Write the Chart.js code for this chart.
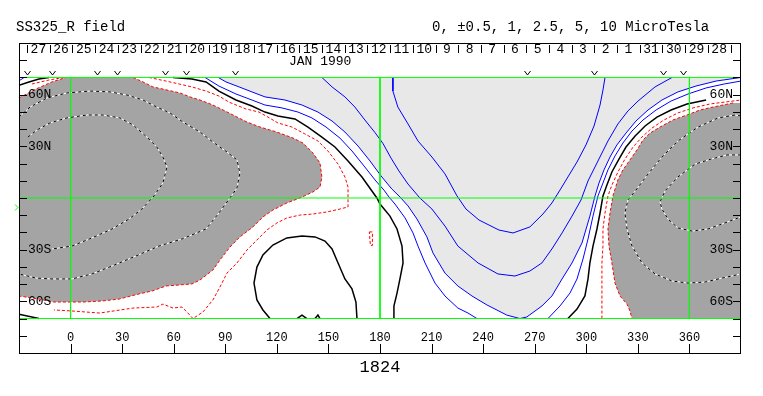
<!DOCTYPE html>
<html lang="en">
<head>
<meta charset="UTF-8">
<title>SS325_R field</title>
<script src="https://cdn.jsdelivr.net/npm/chart.js"></script>
<style>
    body { margin: 0; background: #ffffff; }
    #caixa { width: 763px; height: 396px; }
</style>
</head>
<body>
<div id="caixa"><canvas id="mapa" width="763" height="396"></canvas></div>
<script>

// -1 contour (edge of the dark grey), west lobe
const negOneWestA = [[-30,58.1],[-20.1,63.3],[-10.8,67.4],[-2.7,70]];
const negOneWestB = [[36.3,70],[42.1,67.4],[47.9,64.5],[56.1,62.7],[63.6,61],[69.5,58.7],[75.3,56.9],[82.8,54],[88.7,51.1],[94.5,48.2],[102.6,44.1],[110.2,41.2],[120,38.3],[129.4,34.8],[135.2,31.9],[141,26.1],[145.1,20.3],[146.2,12.2],[145.1,6.4],[141,3.5],[133.4,0],[125.8,-2.9],[117.7,-7],[111.9,-11],[106.1,-16.8],[98.5,-22.6],[92.7,-28.5],[86.9,-36],[82.8,-41.8],[75.3,-47.6],[70.6,-49.9],[63.1,-50.5],[55.5,-51.1],[47.4,-54],[39.8,-55.7],[28.2,-58.7],[18.3,-59.8],[7.2,-60.4],[-9.7,-60.4],[-18.4,-58.7],[-30,-56.9]];
// -1 contour, east lobe
const negOneEast = [[390,55.2],[385.4,55.2],[373.7,52.8],[366.2,51.1],[358.6,48.2],[350.4,45.3],[342.9,41.2],[337.1,37.7],[333,33.7],[329.5,27.9],[325.4,22.1],[321.3,16.3],[318.4,10.5],[315.5,1.2],[313.8,-8.7],[312.6,-18],[313.2,-27.9],[314.9,-37.7],[316.7,-49.4],[319.6,-56.9],[323.7,-61.6],[325.4,-65.6],[326.6,-70]];

// -0.5 contours
const negHalfWestTop = [[-22.5,66.2],[-12.6,68.5],[-4,70]];
const negHalfWest = [[45.6,70],[55.5,67.9],[63.1,66.2],[70.6,64.5],[78.8,62.1],[86.3,59.2],[92.1,55.7],[102,51.7],[109.6,49.9],[114.8,47],[120.6,43.6],[128.8,41.2],[136.3,37.2],[143.9,33.1],[149.7,27.3],[155.6,19.7],[159.6,12.2],[161.4,6.4],[161.4,-0.6],[161.4,-5.2],[156.7,-6.4],[149.1,-8.1],[141,-9.3],[133.4,-9.9],[125.8,-11.6],[120,-14.5],[114.2,-18.6],[108.4,-24.4],[102.6,-30.2],[96.8,-37.7],[91,-43.6],[86.9,-51.7],[82.8,-59.2],[77,-66.2],[71.2,-70],[67.7,-66.2],[64.8,-63.3],[59.6,-63.9],[53.7,-61.6],[50.2,-63.3],[36.3,-63.9],[17.1,-66.8],[0.8,-65.6],[-9.7,-65]];
const negHalfLoop = [[173.8,-19.7],[175.6,-19.7],[175.6,-27.5],[174.4,-27.5],[173.8,-19.7]];
const negHalfEast = [[309.1,-70],[309.1,-56.9],[309.1,-47],[309.1,-37.7],[309.7,-27.9],[309.7,-18],[310.9,-8.7],[312.6,1.2],[314.9,7.5],[318.4,15.1],[322.5,22.6],[327.2,29.6],[332.4,35.4],[338.2,40.6],[345.2,45.3],[353.3,49.4],[362.1,52.3],[372,54.6],[390,56.9]];

// -2.5 and -5 contours (inside the dark grey)
const negTwoHalfWest = [[-30,47],[-23.6,52.8],[-13.7,58.1],[-2.1,61],[11.3,62.1],[22.9,61.6],[32.8,59.8],[42.1,56.9],[50.2,52.8],[57.8,49.4],[65.4,44.1],[75.3,38.3],[82.8,32.5],[91,26.7],[96.8,22.1],[98.5,14.5],[96.8,5.8],[92.7,0],[86.3,-8.7],[78.8,-18],[64.8,-23.8],[51.4,-27.9],[38,-33.7],[24.1,-39.5],[12.4,-44.1],[0.8,-47],[-10.8,-47],[-20.1,-46.5],[-30,-44.1]];
const negFiveWest = [[-24.8,35.4],[-19.5,39.5],[-12,43.6],[-2.1,46.5],[9.5,48.2],[18.8,48.2],[28.7,46.5],[36.3,42.4],[44.4,35.4],[50.2,29.6],[53.7,23.8],[56.1,18],[53.7,8.7],[48.5,1.2],[41.5,-6.4],[34,-12.2],[24.1,-18],[12.4,-23.2],[0.8,-27.9],[-10.8,-29.6]];
const negTwoHalfEast = [[390,47.6],[386.6,48.2],[376.7,46.5],[365,41.2],[353.3,33.1],[344,23.8],[335.9,13.9],[328.9,4.6],[324.2,-1.2],[322.5,-8.7],[323.7,-18],[326.6,-27.9],[332.4,-37.7],[340,-44.1],[349.9,-48.2],[359.2,-49.4],[369.1,-48.8],[379,-46.5],[390,-44.1]];
const negFiveEast = [[390,25],[381.9,25],[372.6,22.6],[363.3,19.7],[353.3,12.2],[345.8,4.1],[342.9,-2.3],[344,-6.4],[347.5,-12.2],[353.3,-17.4],[361.5,-19.2],[370.8,-18],[379,-15.1],[386.6,-12.2],[390,-11]];

// 0 contours (neutral line)
const zeroWestTop = [[-30,65.4],[-24.2,67.4],[-18.4,69.1],[-12.6,70]];
const zeroWestBottom = [[-30,-67.5],[-18.4,-70]];
const zeroMain = [[59.6,70],[70.6,69.1],[78.8,67.4],[86.3,62.1],[96.2,56.9],[105.5,53.4],[113.1,49.9],[120.6,47.6],[130.5,45.9],[138.1,41.2],[146.2,35.4],[153.8,29.6],[161.4,21.5],[169.5,12.2],[175.3,4.1],[178.2,0],[180,-3.5],[185.8,-10.5],[189.9,-18],[192.8,-27.9],[193.4,-37.7],[191.6,-47],[189.9,-55.2],[188.1,-62.7],[188.1,-70]];
const zeroLoop = [[116,-70],[111.9,-65],[108.4,-59.2],[106.7,-49.4],[108.4,-40.1],[111.9,-33.1],[117.7,-27.3],[125.8,-23.2],[134.6,-22.1],[142.2,-22.6],[148,-25],[152.1,-29.6],[155.6,-37.7],[159.6,-47],[163.7,-52.8],[166,-60.4],[166.6,-70]];
const zeroBumpA = [[131.7,-70],[134.6,-68],[137.5,-70]];
const zeroBumpB = [[142.2,-70],[143.9,-68],[145.1,-70]];
const zeroEast = [[289.3,-70],[294.6,-64.5],[299.2,-56.9],[301,-47],[302.1,-37.7],[303.9,-27.9],[306.2,-18],[308,-8.7],[309.7,1.2],[312,7.5],[314.9,15.1],[319,22.6],[323.1,29.6],[328.4,36],[334.2,41.8],[341.1,47],[349.3,51.1],[358.6,54.6],[369.7,56.9]];

// positive contours
const posTopCorner = [[-30,68.1],[-28.3,69.1],[-27.1,70]];
const posHalfWest = [[78.2,70],[86.3,65],[96.2,60.4],[105.5,56.9],[113.1,54],[123,52.3],[132.3,49.9],[140.4,46.5],[148.6,41.2],[156.7,34.8],[163.7,27.3],[170.7,18.6],[177.6,9.9],[182.3,4.6],[185.2,0.6],[188.7,-3.5],[194.6,-11.6],[199.2,-20.3],[202.1,-27.9],[206.2,-37.7],[212,-49.4],[217.8,-56.9],[225.3,-63.9],[231.2,-66.8],[236.4,-70]];
const posHalfEast = [[277.7,-70],[284.7,-62.7],[290.5,-55.2],[294.6,-47],[298.1,-35.4],[301,-23.8],[303.9,-10.5],[306.8,1.2],[309.7,8.7],[312.6,16.3],[316.7,24.4],[321.3,31.9],[326.6,38.9],[333,45.3],[340.6,51.1],[349.3,56.3],[359.2,60.4],[369.7,63.9],[380.2,66.2],[390,67.9]];
const posOneWest = [[85.9,70],[90.4,67.4],[98,64.5],[105.5,61.6],[113.1,58.7],[124.7,56.9],[134.6,54],[143.9,49.9],[152.1,44.7],[159.6,38.3],[167.2,30.2],[174.2,21.5],[180.6,12.8],[186.9,5.2],[191.6,0.6],[196.3,-4.6],[201.5,-12.2],[207.3,-22.6],[210.8,-31.9],[217.8,-43.6],[225.3,-51.1],[233.5,-56.9],[242.2,-62.1],[253.8,-68],[261.4,-70]];
const posOneEast = [[265.4,-69.1],[274.2,-62.7],[280,-56.9],[285.9,-47],[291.7,-37.7],[297.5,-26.1],[302.1,-10.5],[305.1,1.2],[307.4,8.7],[310.3,16.3],[313.8,23.8],[317.8,30.8],[323.1,37.7],[328.9,44.7],[335.9,51.1],[344,56.9],[353.3,61.6],[363.8,65],[375.5,67.9],[390,70]];
const posTwoHalf = [[146.2,70],[152.1,64.5],[159.6,58.7],[165.4,52.8],[171.2,45.3],[177,38.1],[181.7,31.7],[186.4,23.2],[191,15.7],[196.3,8.1],[203.2,0],[210.2,-6.4],[217.8,-16.3],[225.3,-27.9],[237,-37.7],[248.6,-44.1],[258.5,-45.3],[267.2,-42.4],[274.2,-37.7],[280,-29.6],[285.9,-20.3],[291.7,-10.5],[296.9,-1.2],[301,9.9],[306.8,21.5],[312.6,33.1],[318.4,43],[324.2,50.5],[330.1,56.3],[340,64.5],[349.9,70]];
const posFive = [[187.5,70],[187.5,62.1],[190.4,52.8],[196.3,43],[202.1,33.1],[210.2,23.8],[217.8,14],[224.8,1.2],[230,-6.4],[237.6,-12.8],[249.2,-18.6],[257.4,-20.3],[267.2,-16.8],[274.8,-9.3],[280,-2.9],[284.7,4.6],[289.3,12.2],[294.6,20.9],[299.8,30.8],[304.5,41.8],[308,54],[309.7,62.7],[310.9,70]];

// reference lines and axes
const greenLats = [70, 0, -70];
const greenLons = [0, 180, 360];
const lonTicks = [0, 30, 60, 90, 120, 150, 180, 210, 240, 270, 300, 330, 360];
const latTicks = [-80, -70, -60, -50, -40, -30, -20, -10, 0, 10, 20, 30, 40, 50, 60, 70, 80];
const latLabelVals = [60, 30, -30, -60];
const latLabelText = ['60N', '30N', '30S', '60S'];
const dayLabels = ['27','26','25','24','23','22','21','20','19','18','17','16','15','14','13','12','11','10','9','8','7','6','5','4','3','2','1','31','30','29','28'];
const dayStartLon = -25.3;
const dayStepLon = 13.2;
const vMarkLons = [-25.2, -10.6, 15.5, 27.1, 55, 67.2, 95.7, 265.3, 304.2, 344.9, 356.5];
const b0Lat = -5;

function pts(arr) {
    return arr.map(p => ({ x: p[0], y: p[1] }));
}

function linha(arr, cor, larg, tracos, ordem) {
    return {
        data: pts(arr),
        borderColor: cor,
        borderWidth: larg,
        borderDash: tracos || [],
        pointRadius: 0,
        fill: false,
        tension: 0,
        order: ordem
    };
}

function area(arr, cor, ordem) {
    return {
        data: pts(arr),
        borderColor: 'rgba(0,0,0,0)',
        borderWidth: 0,
        backgroundColor: cor,
        fill: 'shape',
        pointRadius: 0,
        tension: 0,
        order: ordem
    };
}

const VERMELHO = '#ff0000';
const AZUL = '#0000ff';
const VERDE = '#00ff00';

const conjuntos = [];
// shading
conjuntos.push(area(posOneWest.concat(posOneEast), '#e8e8e8', 100));
conjuntos.push(area(negOneWestA.concat(negOneWestB), '#a4a4a4', 90));
conjuntos.push(area(negOneEast.concat([[390, -70]]), '#a4a4a4', 90));

// strong negative: white line with black dashes on top
[negTwoHalfWest, negFiveWest, negTwoHalfEast, negFiveEast].forEach(c => {
    conjuntos.push(linha(c, '#ffffff', 1, [], 60));
    conjuntos.push(linha(c, '#000000', 1, [3, 3], 55));
});

// red dashed, -1 and -0.5
[negOneWestA, negOneWestB, negOneEast.slice(1)].forEach(c => conjuntos.push(linha(c, VERMELHO, 1, [3, 2], 50)));
[negHalfWestTop, negHalfWest, negHalfLoop, negHalfEast].forEach(c => conjuntos.push(linha(c, VERMELHO, 1, [3, 2], 50)));

// neutral line
[zeroWestTop, zeroWestBottom, zeroMain, zeroLoop, zeroBumpA, zeroBumpB, zeroEast].forEach(c => conjuntos.push(linha(c, '#000000', 1.5, [], 45)));

// positive, blue
[posTopCorner, posHalfWest, posHalfEast, posOneWest.concat(posOneEast), posTwoHalf, posFive].forEach(c => conjuntos.push(linha(c, AZUL, 1, [], 40)));

// green grid
greenLats.forEach(v => conjuntos.push(linha([[-30, v], [390, v]], VERDE, 1, [], 10)));
greenLons.forEach(v => conjuntos.push(linha([[v, 70], [v, -70]], VERDE, 1, [], 10)));

const moldura = {
    id: 'moldura',
    afterDraw(chart) {
        const ctx = chart.ctx;
        const a = chart.chartArea;
        const sx = chart.scales.x;
        const sy = chart.scales.y;
        ctx.save();
        ctx.strokeStyle = '#000000';
        ctx.fillStyle = '#000000';
        ctx.lineWidth = 1;
        ctx.strokeRect(a.left + 0.5, a.top + 0.5, a.right - a.left - 1, a.bottom - a.top);

        ctx.beginPath();
        latTicks.forEach(v => {
            const y = Math.round(sy.getPixelForValue(v)) + 0.5;
            ctx.moveTo(a.left, y); ctx.lineTo(a.left + 8, y);
            ctx.moveTo(a.right - 8, y); ctx.lineTo(a.right, y);
        });
        lonTicks.forEach(v => {
            const x = Math.round(sx.getPixelForValue(v)) + 0.5;
            ctx.moveTo(x, a.bottom - 9); ctx.lineTo(x, a.bottom);
        });
        for (let k = 0; k <= dayLabels.length; k++) {
            const x = Math.round(sx.getPixelForValue(dayStartLon + k * dayStepLon)) + 0.5;
            ctx.moveTo(x, a.top + 2); ctx.lineTo(x, a.top + 10);
        }
        vMarkLons.forEach(v => {
            const x = Math.round(sx.getPixelForValue(v)) + 0.5;
            ctx.moveTo(x - 3, a.top + 28); ctx.lineTo(x, a.top + 32); ctx.lineTo(x + 3, a.top + 28);
        });
        ctx.stroke();

        // B0 marker
        const yb = Math.round(sy.getPixelForValue(b0Lat)) + 0.5;
        ctx.strokeStyle = VERDE;
        ctx.beginPath();
        ctx.moveTo(a.left - 4, yb - 3); ctx.lineTo(a.left - 1, yb); ctx.lineTo(a.left - 4, yb + 3);
        ctx.stroke();

        ctx.textBaseline = 'middle';
        ctx.font = '12px "Liberation Mono"';
        ctx.textAlign = 'center';
        lonTicks.forEach(v => ctx.fillText(String(v), sx.getPixelForValue(v), a.bottom - 15));

        ctx.font = '13px "Liberation Mono"';
        latLabelVals.forEach((v, i) => {
            const y = sy.getPixelForValue(v);
            ctx.textAlign = 'left';
            ctx.fillText(latLabelText[i], a.left + 9, y);
            ctx.textAlign = 'right';
            ctx.fillText(latLabelText[i], a.right - 8, y);
        });

        ctx.textAlign = 'center';
        dayLabels.forEach((d, k) => {
            ctx.fillText(d, sx.getPixelForValue(dayStartLon + (k + 0.5) * dayStepLon), a.top + 7);
        });
        ctx.textAlign = 'left';
        ctx.fillText('JAN 1990', 289, a.top + 19);

        ctx.font = '14px "Liberation Mono"';
        ctx.fillText('SS325_R field', 16, 27);
        ctx.fillText('0, \u00b10.5, 1, 2.5, 5, 10 MicroTesla', 432, 27);

        ctx.font = '17px "Liberation Mono"';
        ctx.textAlign = 'center';
        ctx.fillText('1824', sx.getPixelForValue(180), 367);
        ctx.restore();
    }
};

const ctxMapa = document.getElementById('mapa');

const grafico = new Chart(ctxMapa, {
    type: 'line',
    data: { datasets: conjuntos },
    options: {
        responsive: false,
        animation: false,
        devicePixelRatio: 1,
        layout: { padding: { left: 19, right: 22, top: 43, bottom: 43 } },
        scales: {
            x: { type: 'linear', min: -30, max: 390, display: false },
            y: { type: 'linear', min: -90, max: 90, display: false }
        },
        plugins: {
            legend: { display: false },
            tooltip: { enabled: false }
        }
    },
    plugins: [moldura]
});
</script>
</body>
</html>
